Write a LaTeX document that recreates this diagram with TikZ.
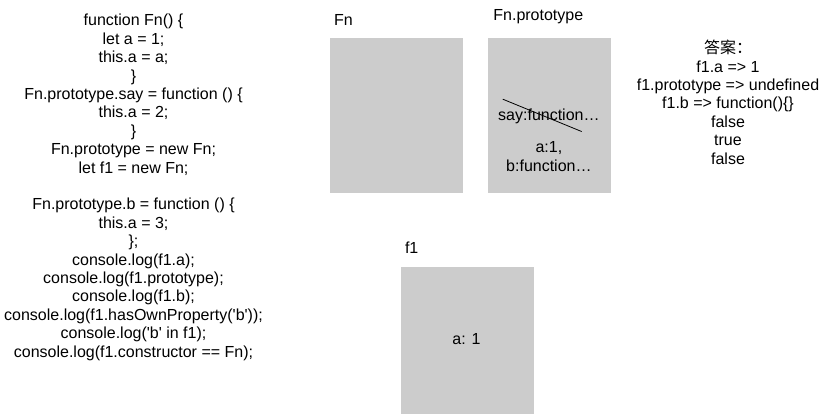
\documentclass[tikz,border=0pt]{standalone}
\usepackage{fontspec}
\setmainfont{Liberation Sans}
\newfontfamily\cjk{Noto Sans CJK SC}
\usepackage{tikz}
\usetikzlibrary{calc,positioning}

\begin{document}
\begin{tikzpicture}[x=1pt, y=1pt, align=center, font=\fontsize{16}{18.4}\selectfont,
        objbox/.style={fill=black!20, inner sep=0pt, minimum height=155.5pt},
        plain/.style={inner sep=0pt}]
        \useasboundingbox (0,0) rectangle (828,-413);

        % source code (base = last line)
        \node [plain, anchor=base] (code) at (133.5,-357) {function Fn() \{\\
            let a = 1;\\
            this.a = a;\\
            \}\\
            Fn.prototype.say = function () \{\\
            this.a = 2;\\
            \}\\
            Fn.prototype = new Fn;\\
            let f1 = new Fn;\\
            \mbox{}\\
            Fn.prototype.b = function () \{\\
            this.a = 3;\\
            \};\\
            console.log(f1.a);\\
            console.log(f1.prototype);\\
            console.log(f1.b);\\
            console.log(f1.hasOwnProperty(\textquotesingle b\textquotesingle));\\
            console.log(\textquotesingle b\textquotesingle{} in f1);\\
            console.log(f1.constructor == Fn);};

        % objects
        \node [objbox, minimum width=133pt] (fn) at (396.5,-115.5) {};
        \node [objbox, minimum width=123pt, right=25pt of fn] (fnproto) {};
        \node [objbox, minimum width=133pt] (f1) at (467.5,-344.5) {};

        \node [plain, anchor=base west] (fnname) at ([xshift=4pt, yshift=11.7pt]fn.north west) {Fn};
        \node [plain, anchor=base west] (fnprotoname) at ([xshift=5pt, yshift=16.7pt]fnproto.north west) {Fn.prototype};
        \node [plain, anchor=base west] (f1name) at ([xshift=4pt, yshift=13pt]f1.north west) {f1};

        \node [plain, anchor=base] (say) at ([xshift=-1pt, yshift=-83pt]fnproto.north) {say:function…};
        \node [plain, anchor=base, font=\fontsize{16}{19}\selectfont] (protoprops) at ([xshift=-1pt, yshift=-134pt]fnproto.north) {a:1,\\b:function…};
        \node [plain] (f1props) at ([xshift=-1pt, yshift=-73pt]f1.north) {a: 1};

        % say is overwritten
        \coordinate (strikea) at ([xshift=4.7pt, yshift=21.4pt]say.base west);
        \coordinate (strikeb) at ([xshift=83.7pt, yshift=-11pt]say.base west);
        \draw[line width=0.8pt] (strikea) -- (strikeb);

        % answers (base = last line)
        \node [plain, anchor=base] (answer) at (728,-164) {{\cjk 答案：}\\
            f1.a => 1\\
            f1.prototype => undefined\\
            f1.b => function()\{\}\\
            false\\
            true\\
            false};

    \end{tikzpicture}
\end{document}
